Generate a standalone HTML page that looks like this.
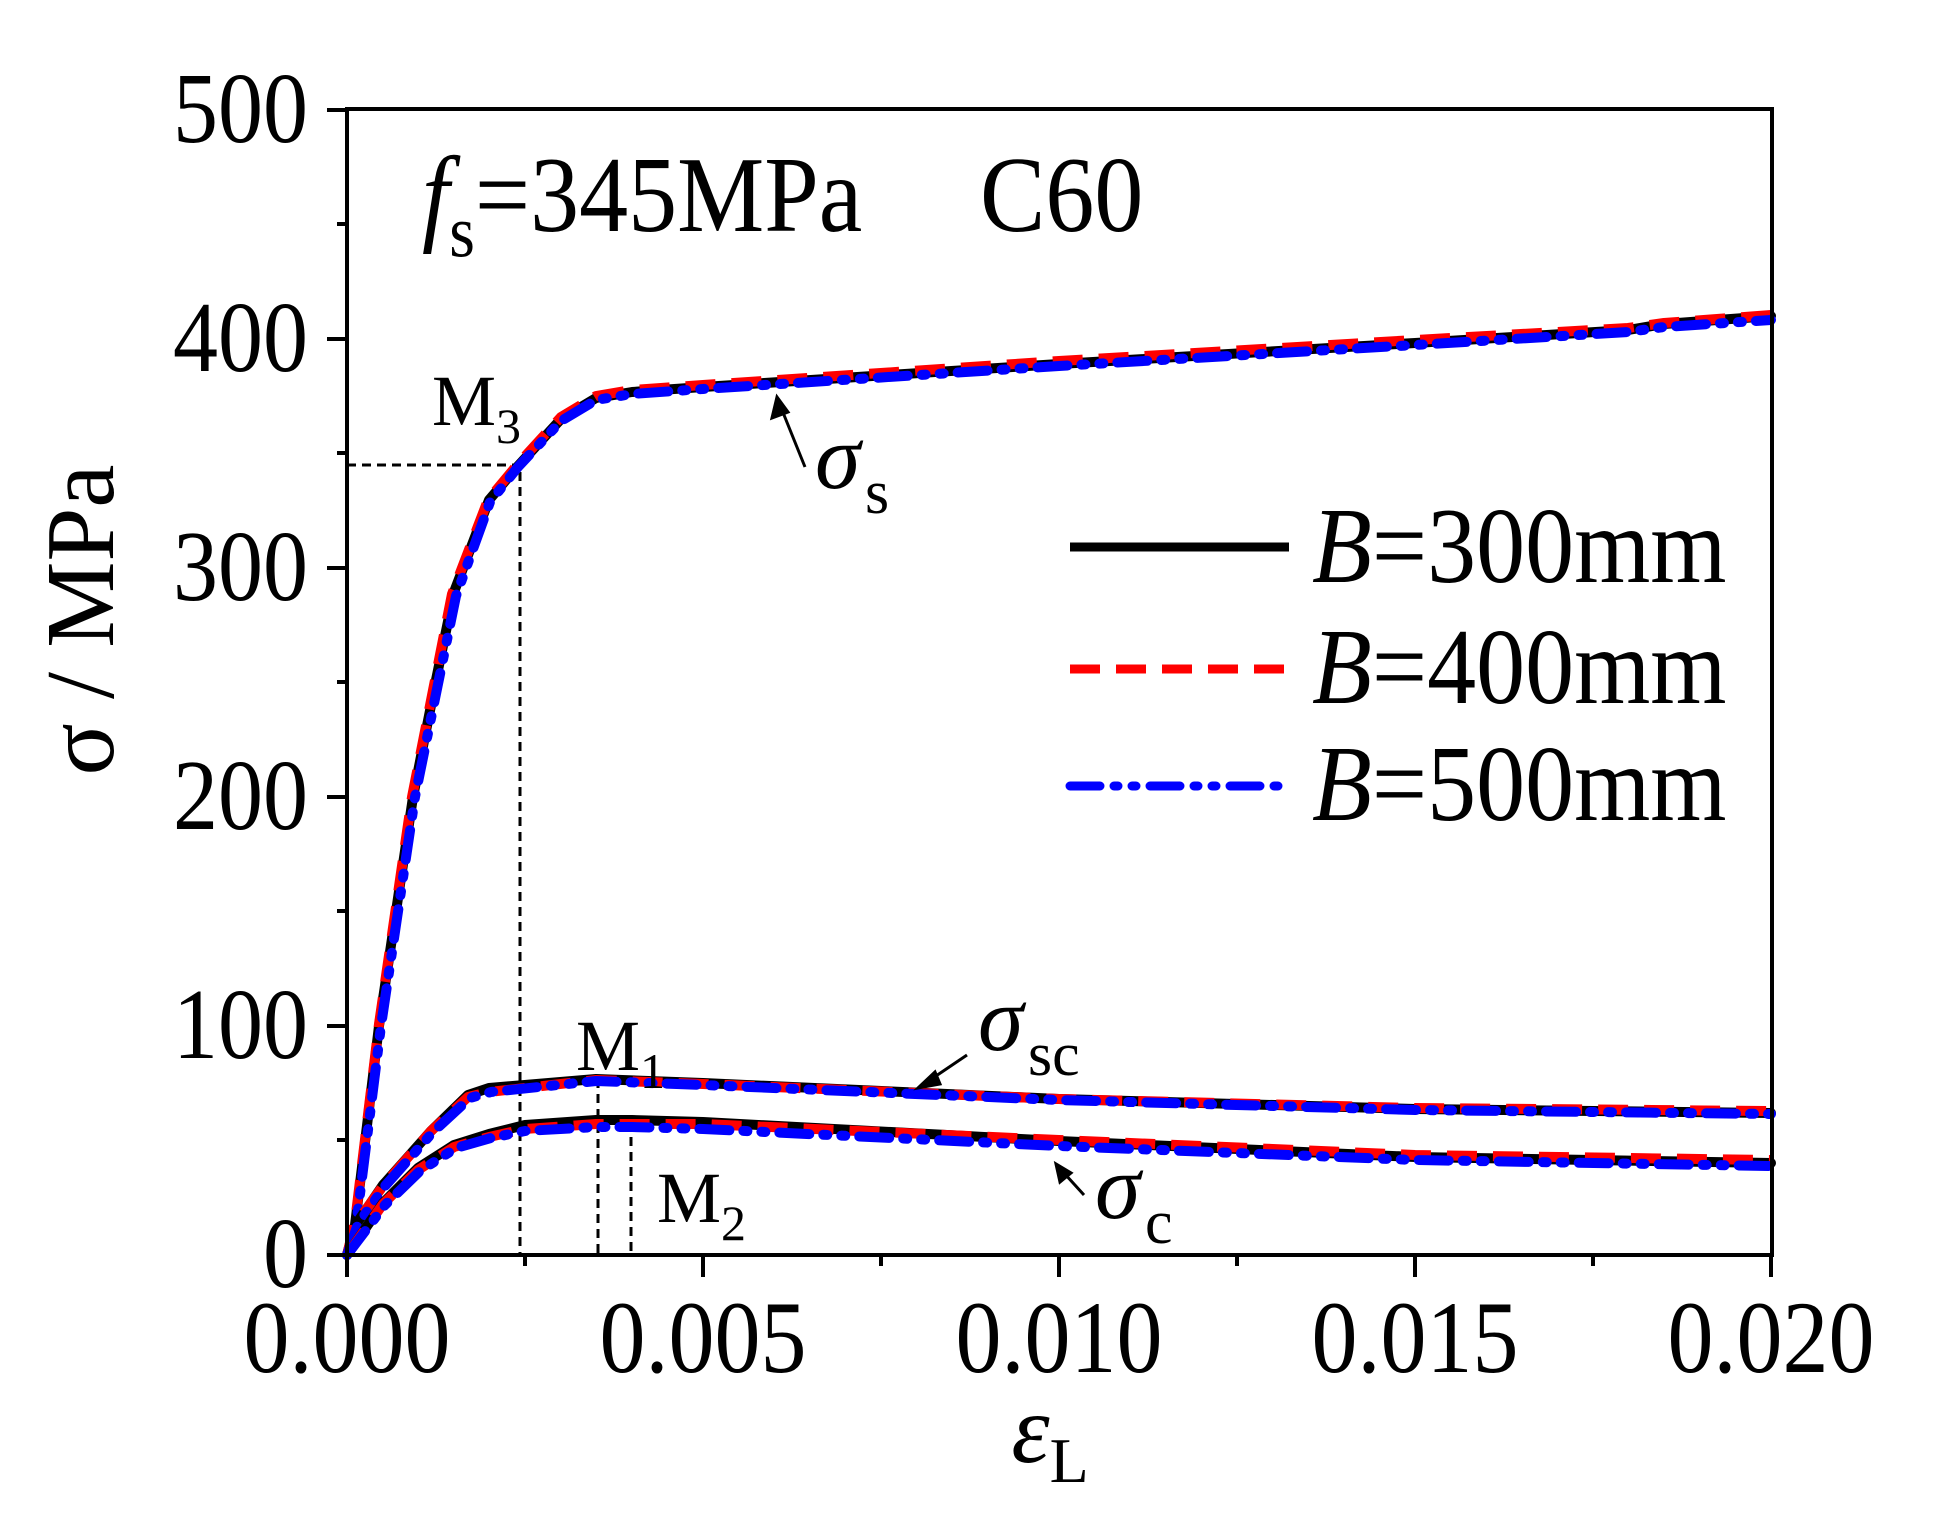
<!DOCTYPE html>
<html><head><meta charset="utf-8"><style>
html,body{margin:0;padding:0;background:#fff;}
svg{display:block;}
text{font-family:"Liberation Serif",serif;fill:#000;}
</style></head><body>
<svg width="1947" height="1518" viewBox="0 0 1947 1518" xmlns="http://www.w3.org/2000/svg">
<rect width="1947" height="1518" fill="#fff"/>
<g stroke="#000" stroke-width="3" stroke-dasharray="9,6" fill="none">
<path d="M347 465 H520 V1255"/>
<path d="M598 1079 V1255"/>
<path d="M631 1122 V1255"/>
</g>
<g fill="none" stroke-width="10" stroke-linejoin="round" stroke-linecap="round">
<path stroke="#000" d="M347 1255 L355 1225 L379 1026 L413 797 L436 680 L454 592 L489 500 L518 466 L561 419 L596 398 L632 392 L703 387 L1059 364 L1415 343 L1628 330 L1664 324 L1771 316"/>
<path stroke="#f00" stroke-dasharray="30,16" stroke-linecap="butt" d="M347 1255 L355 1222 L379 1024 L412 797 L435 680 L452 594 L488 500 L518 464 L561 417 L596 396 L632 390 L703 385 L1059 361 L1415 340 L1628 328 L1664 323 L1771 315"/>
<path stroke="#00f" stroke-dasharray="30,14,4,14,4,14" d="M347 1255 L356 1226 L381 1026 L415 797 L438 684 L456 596 L490 502 L518 467 L561 421 L596 400 L632 394 L703 389 L1059 366 L1415 345 L1628 332 L1664 327 L1771 320"/>
<path stroke="#000" d="M347 1255 L357 1223 L383 1185 L431 1131 L468 1095 L489 1088 L596 1079 L703 1083 L1059 1099 L1415 1109 L1771 1113"/>
<path stroke="#f00" stroke-dasharray="30,16" stroke-linecap="butt" d="M347 1255 L357 1222 L383 1186 L431 1131 L468 1097 L489 1092 L596 1080 L703 1084 L1059 1099 L1415 1108 L1771 1111"/>
<path stroke="#00f" stroke-dasharray="30,14,4,14,4,14" d="M347 1255 L358 1224 L385 1186 L433 1132 L470 1098 L491 1092 L596 1081 L703 1085 L1059 1100 L1415 1110 L1771 1114"/>
<path stroke="#000" d="M347 1255 L383 1203 L418 1168 L454 1145 L489 1134 L525 1125 L596 1120 L632 1120 L703 1122 L1059 1141 L1415 1157 L1771 1163"/>
<path stroke="#f00" stroke-dasharray="30,16" stroke-linecap="butt" d="M347 1255 L383 1204 L418 1170 L454 1147 L489 1137 L525 1129 L596 1124 L632 1124 L703 1124 L1059 1140 L1415 1155 L1771 1160"/>
<path stroke="#00f" stroke-dasharray="30,14,4,14,4,14" d="M347 1255 L385 1205 L420 1171 L456 1148 L491 1138 L525 1131 L596 1127 L632 1127 L703 1129 L1059 1146 L1415 1160 L1771 1166"/>
</g>
<rect x="347" y="109" width="1425" height="1146" fill="none" stroke="#000" stroke-width="4"/>
<g stroke="#000" stroke-width="4">
<path d="M327 1255H347 M327 1026H347 M327 797H347 M327 568H347 M327 339H347 M327 110H347"/>
<path d="M337 1140H347 M337 911H347 M337 682H347 M337 453H347 M337 224H347"/>
<path d="M347 1255V1277 M703 1255V1277 M1059 1255V1277 M1415 1255V1277 M1771 1255V1277"/>
<path d="M525 1255V1266 M881 1255V1266 M1237 1255V1266 M1593 1255V1266"/>
</g>
<g font-size="90" text-anchor="end">
<text transform="translate(308,1287) scale(1,1.12)">0</text>
<text transform="translate(308,1058) scale(1,1.12)">100</text>
<text transform="translate(308,829) scale(1,1.12)">200</text>
<text transform="translate(308,600) scale(1,1.12)">300</text>
<text transform="translate(308,371) scale(1,1.12)">400</text>
<text transform="translate(308,142) scale(1,1.12)">500</text>
</g>
<g font-size="92" text-anchor="middle">
<text transform="translate(347,1372) scale(1,1.12)">0.000</text>
<text transform="translate(703,1372) scale(1,1.12)">0.005</text>
<text transform="translate(1059,1372) scale(1,1.12)">0.010</text>
<text transform="translate(1415,1372) scale(1,1.12)">0.015</text>
<text transform="translate(1771,1372) scale(1,1.12)">0.020</text>
</g>
<text x="1050" y="1462" font-size="97" text-anchor="middle"><tspan font-style="italic">ε</tspan><tspan font-size="64" dy="20">L</tspan></text>
<text transform="translate(113,620) rotate(-90)" font-size="97" text-anchor="middle">σ / MPa</text>
<text transform="translate(422,231) scale(1,1.1)" font-size="98"><tspan font-style="italic">f</tspan><tspan font-size="66" dy="23">s</tspan><tspan dy="-23">=345MPa</tspan></text>
<text transform="translate(980,231) scale(1,1.1)" font-size="98">C60</text>
<g stroke-width="9" fill="none">
<path d="M1070 547H1289" stroke="#000"/>
<path d="M1070 669H1289" stroke="#f00" stroke-dasharray="30,16"/>
<path d="M1070 786H1289" stroke="#00f" stroke-dasharray="30,14,4,14,4,14" stroke-linecap="round"/>
</g>
<g font-size="98">
<text transform="translate(1312,582) scale(1,1.1)"><tspan font-style="italic">B</tspan>=300mm</text>
<text transform="translate(1312,703) scale(1,1.1)"><tspan font-style="italic">B</tspan>=400mm</text>
<text transform="translate(1312,820) scale(1,1.1)"><tspan font-style="italic">B</tspan>=500mm</text>
</g>
<g font-size="72">
<text x="432" y="425">M<tspan font-size="50" dy="18">3</tspan></text>
<text x="576" y="1070">M<tspan font-size="50" dy="18">1</tspan></text>
<text x="657" y="1222">M<tspan font-size="50" dy="18">2</tspan></text>
</g>
<g font-size="92">
<text x="815" y="488" font-style="italic">σ</text><text x="865" y="513" font-size="62">s</text>
<text x="978" y="1050" font-style="italic">σ</text><text x="1028" y="1075" font-size="62">sc</text>
<text x="1095" y="1218" font-style="italic">σ</text><text x="1145" y="1243" font-size="62">c</text>
</g>
<g stroke="#000" stroke-width="3" fill="#000">
<path d="M805 467 L782 410"/><path d="M777 397 L772 418 L788 412 Z"/>
<path d="M967 1055 L930 1080"/><path d="M918 1088 L935 1072 L940 1084 Z"/>
<path d="M1084 1195 L1064 1173"/><path d="M1056 1164 L1060 1182 L1071 1173 Z"/>
</g>
</svg>
</body></html>
